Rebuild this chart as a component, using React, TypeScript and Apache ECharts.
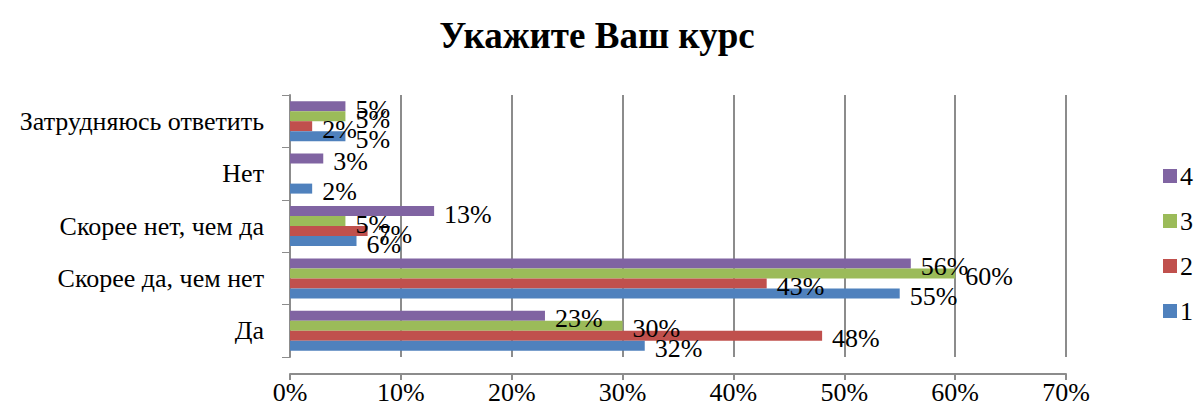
import React, { useEffect, useRef } from "react";
import * as echarts from "echarts";

const categories = ["Да", "Скорее да, чем нет", "Скорее нет, чем да", "Нет", "Затрудняюсь ответить"];
const s1 = [32, 55, 6, 2, 5];
const s2 = [48, 43, 7, null, 2];
const s3 = [30, 60, 5, null, 5];
const s4 = [23, 56, 13, 3, 5];
const seriesNames = ["1", "2", "3", "4"];
const xTicks = [0, 10, 20, 30, 40, 50, 60, 70];
const colors = ["#4F81BD", "#C0504D", "#9BBB59", "#8064A2"];

const FONT = "'Liberation Serif', 'Times New Roman', serif";

export default function App() {
  const ref = useRef<HTMLDivElement>(null);
  useEffect(() => {
    if (!ref.current) return;
    const chart = echarts.init(ref.current, null, { renderer: "svg" });
    const data = [s1, s2, s3, s4];
    const order = [3, 2, 1, 0];
    chart.setOption({
      animation: false,
      backgroundColor: "#ffffff",
      title: {
        text: "Укажите Ваш курс",
        left: "center",
        top: 12,
        textStyle: { fontFamily: FONT, fontSize: 37, fontWeight: "bold", color: "#000" },
      },
      legend: {
        orient: "vertical",
        left: 1158,
        top: 158,
        itemWidth: 14,
        itemHeight: 14,
        itemGap: 19,
        data: ["4", "3", "2", "1"],
        icon: "rect",
        textStyle: { fontFamily: FONT, fontSize: 26, color: "#000", padding: [0, 0, 0, -2] },
      },
      grid: { left: 290, right: 128, top: 95, bottom: 43, containLabel: false },
      xAxis: {
        type: "value",
        min: 0,
        max: xTicks[xTicks.length - 1],
        interval: 10,
        offset: 17,
        axisLine: { show: true, lineStyle: { color: "#8c8c8c", width: 2 } },
        axisTick: { show: true, length: 6, lineStyle: { color: "#8c8c8c", width: 2 } },
        axisLabel: {
          formatter: (v: number) => v + "%",
          fontFamily: FONT,
          fontSize: 26,
          color: "#000",
          margin: 5,
        },
        splitLine: { show: true, lineStyle: { color: "#8c8c8c", width: 2 } },
      },
      yAxis: {
        type: "category",
        data: categories,
        axisLine: { show: true, lineStyle: { color: "#8c8c8c", width: 2 } },
        axisTick: { show: true, length: 8, lineStyle: { color: "#8c8c8c", width: 1 } },
        axisLabel: { fontFamily: FONT, fontSize: 26, color: "#000", margin: 26, padding: [10, 0, 0, 0] },
      },
      series: order.map((i) => ({
        name: seriesNames[i],
        type: "bar",
        data: data[i],
        barWidth: 10,
        barGap: "0%",
        itemStyle: { color: colors[i] },
        label: {
          show: true,
          position: "right",
          distance: 10,
          offset: [0, 3],
          formatter: (p: any) => (p.value == null ? "" : p.value + "%"),
          fontFamily: FONT,
          fontSize: 26,
          color: "#000",
        },
      })),
    });
    return () => chart.dispose();
  }, []);
  return (
    <div
      ref={ref}
      style={{ position: "absolute", left: 0, top: 0, width: 1194, height: 405 }}
    />
  );
}
